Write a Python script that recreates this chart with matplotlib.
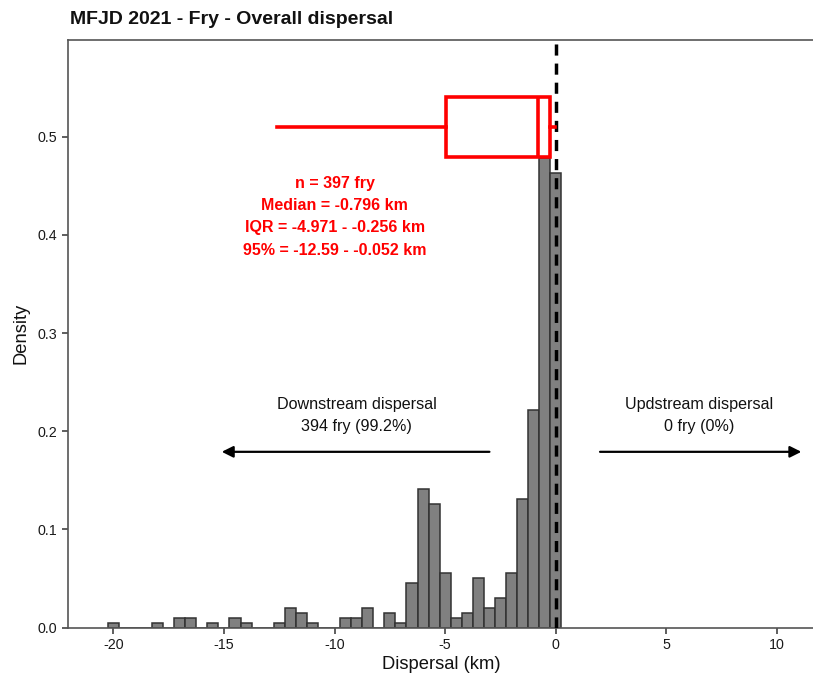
import matplotlib
matplotlib.use("Agg")
import matplotlib.pyplot as plt
import numpy as np

# ---- data ----
bin_centers = [-20.0, -18.0, -17.0, -16.5, -15.5, -14.5, -14.0, -12.5, -12.0, -11.5, -11.0,
               -9.5, -9.0, -8.5, -7.5, -7.0, -6.5, -6.0, -5.5, -5.0, -4.5, -4.0, -3.5,
               -3.0, -2.5, -2.0, -1.5, -1.0, -0.5, 0.0]
bin_counts = [1, 1, 2, 2, 1, 2, 1, 1, 4, 3, 1,
              2, 2, 4, 3, 1, 9, 28, 25, 11, 2, 3, 10,
              4, 6, 11, 26, 44, 95, 92]
bin_width = 0.5

n_fry = 397
median_km = -0.796
q1_km = -4.971
q3_km = -0.256
p_lo_km = -12.59
p_hi_km = -0.052

down_label = "Downstream dispersal\n394 fry (99.2%)"
up_label = "Updstream dispersal\n0 fry (0%)"
stats_label = ("n = 397 fry\nMedian = -0.796 km\n"
               "IQR = -4.971 - -0.256 km\n95% = -12.59 - -0.052 km")
title = "MFJD 2021 - Fry - Overall dispersal"
x_ticks = [-20, -15, -10, -5, 0, 5, 10]
y_ticks = [0.0, 0.1, 0.2, 0.3, 0.4, 0.5]

plt.rcParams['font.family'] = ['Liberation Sans', 'DejaVu Sans']

fig = plt.figure(figsize=(8.13, 6.82), dpi=100)
ax = fig.add_axes([68/813, 54.5/682, 1 - 68/813 + 0.002, 587.5/682])

edges = np.arange(min(bin_centers) - bin_width/2, max(bin_centers) + bin_width, bin_width)
ax.hist(bin_centers, bins=edges, weights=bin_counts, density=True,
        color='#808080', edgecolor='#333333', linewidth=1.1, zorder=2)

ax.axvline(0, color='black', linestyle=(0, (3.2, 2.3)), linewidth=2.5, zorder=3)

stats = [dict(med=median_km, q1=q1_km, q3=q3_km, whislo=p_lo_km, whishi=p_hi_km, fliers=[])]
bprops = dict(boxprops=dict(edgecolor='red', linewidth=2.6, facecolor='white'),
              medianprops=dict(color='red', linewidth=2.6),
              whiskerprops=dict(color='red', linewidth=2.6),
              showcaps=False, showfliers=False, patch_artist=True,
              positions=[0.51], widths=[0.062], manage_ticks=False, zorder=4)
try:
    ax.bxp(stats, orientation='horizontal', **bprops)
except TypeError:
    ax.bxp(stats, vert=False, **bprops)

ax.text(-10, 0.4185, stats_label, color='red', fontsize=11.5, fontweight='bold',
        ha='center', va='center', linespacing=1.62, zorder=5)

ax.text(-9, 0.216, down_label, color='#111111', fontsize=11.6, ha='center', va='center',
        linespacing=1.66)
ax.text(6.5, 0.216, up_label, color='#111111', fontsize=11.6, ha='center', va='center',
        linespacing=1.66)
arrow = dict(arrowstyle='-|>', mutation_scale=17, lw=1.6, color='black', shrinkA=0, shrinkB=0)
ax.annotate('', xy=(-15.1, 0.179), xytext=(-3, 0.179), arrowprops=arrow)
ax.annotate('', xy=(11.1, 0.179), xytext=(2, 0.179), arrowprops=arrow)

ax.set_xlim(-22.05, 11.7)
ax.set_ylim(0, 0.5986)
ax.set_xticks(x_ticks)
ax.set_xticklabels([str(t) for t in x_ticks])
ax.set_yticks(y_ticks)
ax.set_yticklabels([f"{t:.1f}" for t in y_ticks])
ax.tick_params(axis='both', labelsize=10.3, colors='#333333', labelcolor='#1a1a1a',
               length=4, width=1.1, direction='out')
for s in ['left', 'bottom', 'top']:
    ax.spines[s].set_color('#555555')
    ax.spines[s].set_linewidth(1.2)
ax.spines['right'].set_visible(False)

ax.set_xlabel("Dispersal (km)", fontsize=13.2, color='#111111', labelpad=3)
ax.set_ylabel("Density", fontsize=13.2, color='#111111', labelpad=6)
fig.text(70/813, 1 - 24/682, title, fontsize=14, fontweight='bold', ha='left', va='baseline',
         color='#111111')

fig.savefig("out.png", dpi=100)
